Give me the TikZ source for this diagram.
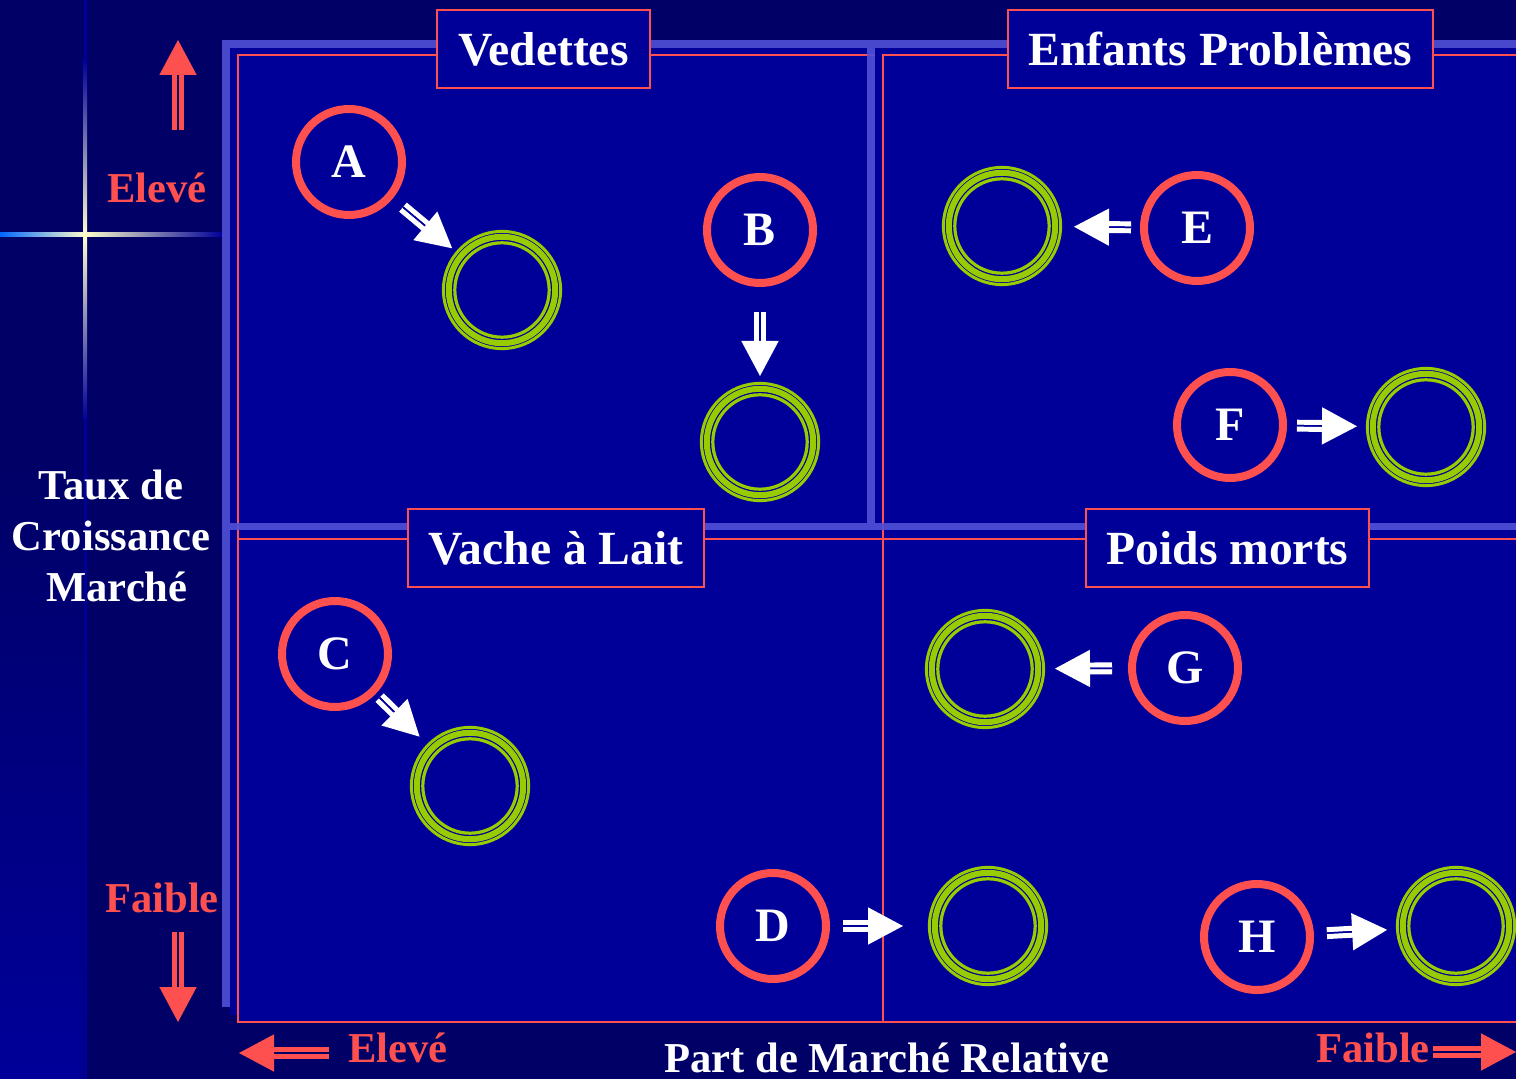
\documentclass[tikz,border=0pt]{standalone}
\usepackage{fontspec}
\setmainfont{Liberation Serif}
\usetikzlibrary{arrows.meta}

\definecolor{marine}{HTML}{000066}
\definecolor{panneau}{HTML}{000099}
\definecolor{bande}{HTML}{5050D8}
\definecolor{rouge}{HTML}{FF5050}
\definecolor{vert}{HTML}{99CC00}
\definecolor{halo}{HTML}{FFFFCC}
\definecolor{eclat}{HTML}{0066FF}

% fleche a double trait : couleur, couleur du creux, depart, arrivee, retraits
\newcommand{\fleche}[6]{%
  \draw[draw=#1, line width=2.6pt, double=#2, double distance=0.75pt,
        shorten <=#5, shorten >=#6+16pt] (#3) -- (#4);
  \draw[draw=#2, line width=0.75pt, shorten <=#5, shorten >=#6,
        -{Triangle[color=#1, length=17.5pt, width=18.5pt]}] (#3) -- (#4);
}

\begin{document}
\begin{tikzpicture}[
    x=0.5pt, y=-0.5pt,
    lettre/.style={circle, draw=rouge, line width=4pt, minimum size=53pt, inner sep=0pt, text=white, font=\fontsize{24}{28}\selectfont\bfseries},
    anneau/.style={circle, minimum size=60pt, inner sep=0pt, outer sep=0pt},
    titre/.style={draw=rouge, line width=1pt, fill=panneau, text=white, minimum height=39pt, inner xsep=10.5pt, font=\fontsize{23.8}{28}\selectfont\bfseries},
    axe/.style={inner sep=0pt, font=\fontsize{21.3}{25.5}\selectfont\bfseries},
    trait/.style={rouge, line width=1pt},
    bandeau/.style={fill=bande, opacity=0.9},
]
    % fond
    \fill[marine] (0,0) rectangle (1516,1079);
    \useasboundingbox (0,0) rectangle (1516,1079);
    \shade[top color=marine, bottom color=panneau] (0,450) rectangle (83,1079);

    % croix lumineuse
    \fill[panneau] (83.5,0) rectangle (86.5,1079);
    \shade[top color=panneau, middle color=eclat, bottom color=halo] (83,60) rectangle (87,235);
    \shade[top color=halo, middle color=eclat, bottom color=panneau] (83,235) rectangle (87,420);
    \shade[left color=eclat, right color=halo] (0,233) rectangle (85,237);
    \shade[left color=halo, middle color=eclat, right color=panneau] (85,233) rectangle (222,237);

    % panneau et quadrants
    \fill[panneau] (230,48) rectangle (1516,1015);
    \fill[panneau] (238,48) rectangle (1516,1023);
    \draw[trait] (875,55) -- (238,55) -- (238,1022) -- (1516,1022);
    \draw[trait] (238,539) -- (1516,539);
    \draw[trait] (1516,55) -- (883,55) -- (883,1022);
    \fill[bandeau] (222,40) rectangle (1516,48);
    \fill[bandeau] (222,48) rectangle (230,1007);
    \fill[bandeau] (230,523) rectangle (1516,530);
    \fill[bandeau] (867,48) rectangle (875,523);

    \node[titre] (vedettes) at (543.5,49) {Vedettes};
    \node[titre] (enfants) at (1220.5,49) {Enfants Problèmes};
    \node[titre] (vache) at (556,548.5) {Vache à Lait};
    \node[titre] (poids) at (1227.5,548.5) {Poids morts};

    % axes
    \node[axe, text=white, align=center] (taux) at (111,536) {Taux de\\Croissance\\\hspace*{6pt}Marché};
    \node[axe, text=white] (part) at (887,1058) {Part de Marché Relative};
    \node[axe, text=rouge] (eleveh) at (157,188) {Elevé};
    \node[axe, text=rouge] (faibleg) at (162,898) {Faible};
    \node[axe, text=rouge] (eleveb) at (398,1048) {Elevé};
    \node[axe, text=rouge] (faibled) at (1373,1048) {Faible};

    \coordinate (hautA) at (178,130);
    \coordinate (hautB) at (178,40);
    \coordinate (basA) at (178,932);
    \coordinate (basB) at (178,1022);
    \coordinate (gaucheA) at (329,1053);
    \coordinate (gaucheB) at (239,1053);
    \coordinate (droiteA) at (1433,1052);
    \coordinate (droiteB) at (1516,1052);
    \fleche{rouge}{marine}{hautA}{hautB}{0pt}{0pt}
    \fleche{rouge}{marine}{basA}{basB}{0pt}{0pt}
    \fleche{rouge}{marine}{gaucheA}{gaucheB}{0pt}{0pt}
    \fleche{rouge}{marine}{droiteA}{droiteB}{0pt}{0pt}

    % produits
    \foreach \nom/\pos/\txt in {a/{349,162}/A, b/{760,230}/B, c/{335,654}/C, d/{773,926}/D,
                                e/{1197,228}/E, f/{1230,425}/F, g/{1185,668}/G, h/{1257,937}/H}
        \node[lettre] (\nom) at (\pos) {\txt};

    \foreach \nom/\pos in {a2/{502,290}, b2/{760,442}, c2/{470,786}, d2/{988,926},
                           e2/{1002,226}, f2/{1426,427}, g2/{985,669}, h2/{1456,926}} {
        \node[anneau] (\nom) at (\pos) {};
        \foreach \r/\w in {29.3/1.5, 26.6/3, 23.6/1.6}
            \draw[vert, line width=\w pt] (\nom.center) circle[radius=\r pt];
    }

    \fleche{white}{panneau}{a}{a2}{6.7pt}{2.5pt}
    \fleche{white}{panneau}{b}{b2}{12.5pt}{3pt}
    \fleche{white}{panneau}{c}{c2}{2.7pt}{5.3pt}
    \fleche{white}{panneau}{d}{d2}{6.5pt}{12.5pt}
    \fleche{white}{panneau}{e}{e2}{4.5pt}{6pt}
    \fleche{white}{panneau}{f}{f2}{5pt}{4.5pt}
    \fleche{white}{panneau}{g}{g2}{8pt}{5pt}
    \fleche{white}{panneau}{h}{h2}{6.5pt}{4.5pt}

\end{tikzpicture}
\end{document}
